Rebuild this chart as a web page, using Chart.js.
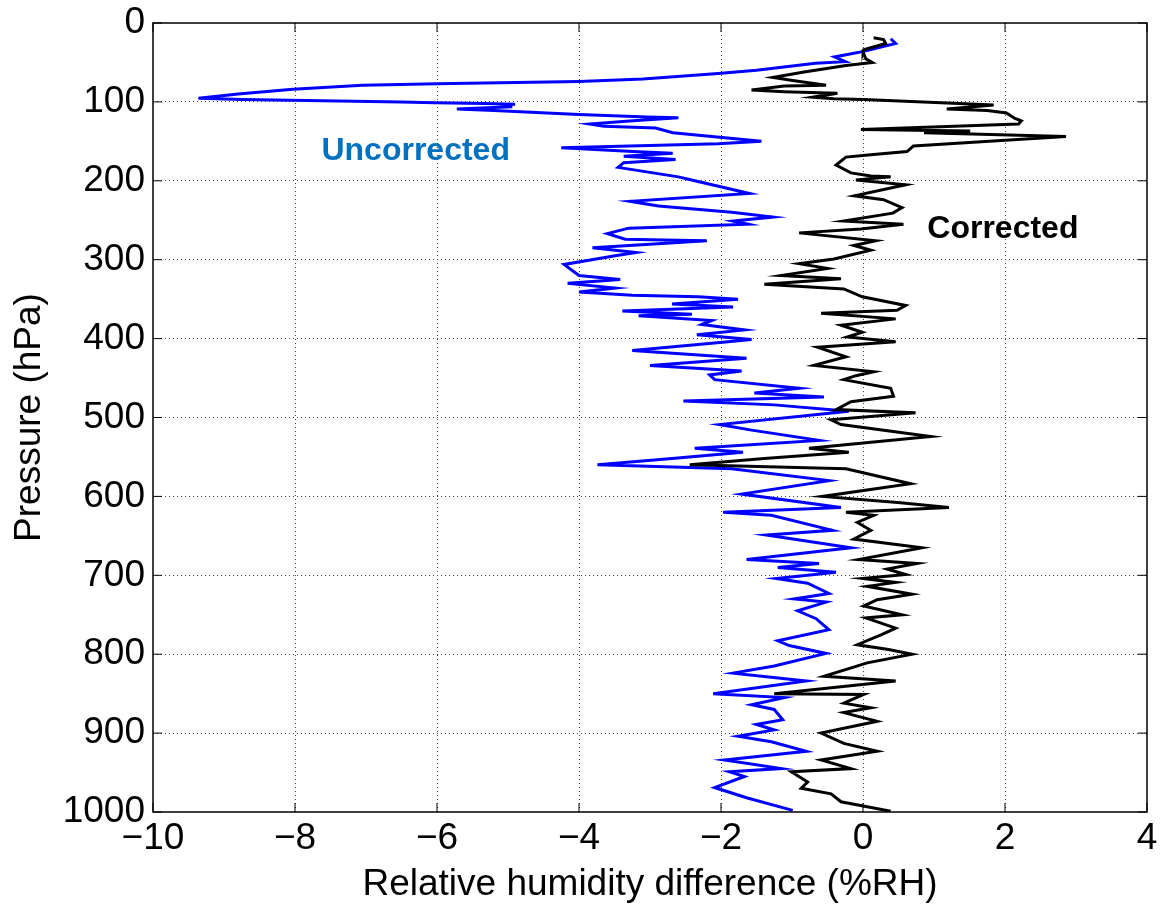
<!DOCTYPE html>
<html>
<head>
<meta charset="utf-8">
<script src="https://cdn.jsdelivr.net/npm/chart.js@4.4.0/dist/chart.umd.min.js"></script>
<style>
  html, body { margin: 0; padding: 0; background: #fff; }
  #wrap { width: 1168px; height: 910px; }
</style>
</head>
<body>
<div id="wrap"><canvas id="rhChart" width="1168" height="910"></canvas></div>
<script>
// Corrected profile (black)
const pCorrected = [18.7, 21, 26, 34, 37, 45.5, 50, 54, 62, 69, 73, 79, 80, 85, 87, 89, 94, 96, 97,
  103, 104, 109, 111, 114, 121, 124, 128, 135, 137, 139, 144, 148, 156, 163, 167, 170, 180, 190, 194, 195, 199,
  205, 219, 224, 234, 241, 251, 255, 261, 266, 276, 282, 288, 299, 305, 311, 320, 324, 331, 337, 347,
  358, 364, 368, 375, 383, 392, 398, 404, 411, 423, 434, 442, 447, 452, 463, 473, 480, 490, 494, 503,
  509, 524, 539, 544, 552, 560, 565, 584, 600, 608, 614, 620, 624, 633, 643, 654, 665, 680, 685, 692,
  699, 704, 709, 714, 724, 731, 739, 750, 754, 767, 775, 788, 794, 800, 811, 828, 834, 850, 851, 862,
  868, 874, 885, 900, 913, 923, 934, 945, 949, 962, 970, 977, 987, 999];
const rhCorrected = [0.15, 0.29, 0.32, 0.01, 0.0, 0.04, 0.13, -0.24, -0.83, -1.27, -0.99, -0.52, -1.11, -1.57, -1.11, -0.36, -0.71, -0.41, 0.01,
  1.6, 1.84, 1.18, 1.75, 2.02, 2.14, 2.23, 2.19, -0.03, 1.51, 0.86, 2.86, 2.12, 0.71, 0.62, 0.11, -0.24, -0.38, -0.17, 0.11, 0.39, -0.1,
  0.6, -0.12, 0.29, 0.55, 0.42, -0.27, 0.57, -0.03, -0.9, 0.18, -0.13, 0.11, -0.41, -0.9, -0.5, -1.15, -0.31, -1.39, -0.27, -0.01,
  0.6, 0.48, -0.59, 0.46, -0.31, -0.01, -0.22, 0.46, -0.64, -0.24, -0.69, 0.15, -0.1, -0.27, 0.39, 0.43, -0.17, -0.38, 0.74, -0.45,
  -0.31, 0.95, -0.76, -0.2, -1.39, -2.44, -0.24, 0.67, -0.57, 0.53, 1.21, -0.24, 0.15, -0.08, 0.11, -0.13, 0.83, -0.06, 0.76, 0.34,
  0.6, 0.0, 0.46, 0.06, 0.69, 0.2, 0.01, 0.55, 0.04, 0.46, 0.27, -0.08, 0.36, 0.69, 0.06, -0.55, 0.46, -1.25, 0.01, -0.27,
  0.11, -0.27, 0.2, -0.59, -0.27, 0.2, -0.59, -0.17, -1.01, -0.78, -0.87, -0.45, -0.31, 0.39];

// Uncorrected profile (blue)
const pUncorrected = [20, 26, 36, 43, 49, 51, 60, 64, 71, 74, 77, 79, 84, 90, 95.5, 97, 100, 101, 102, 103,
  104, 106, 109, 111, 116, 119, 120, 124, 128, 131, 133, 139, 150, 153, 158, 163, 165, 169, 173, 177, 183, 195, 198,
  216, 226, 232, 240, 246, 251, 255, 260, 267, 274, 276, 285, 291, 295, 306, 320, 325, 330, 336, 341, 345, 347,
  350, 356, 360, 365, 369, 371, 377, 382, 389, 395, 401, 404, 415, 425, 434, 441, 446, 452, 463, 469, 474, 479,
  484, 492, 509, 516, 529, 539, 544, 552, 560, 565, 580, 597, 614, 620, 624, 643, 649, 665, 680, 685, 690, 696,
  704, 710, 723, 730, 734, 745, 755, 769, 783, 789, 799, 815, 824, 834, 850, 855, 864, 870, 883, 889, 896, 904,
  911, 923, 934, 945, 949, 955, 969, 982, 998];
const rhUncorrected = [0.39, 0.46, 0.01, -0.4, -0.25, -0.67, -1.5, -2.04, -3.1, -4.0, -6.0, -7.05, -8.03, -8.8, -9.36, -8.73, -6.5, -6.03, -5.33, -4.9,
  -5.1, -4.94, -5.72, -5.2, -4.0, -3.04, -2.6, -3.24, -3.85, -3.65, -2.92, -2.68, -1.43, -2.04, -4.25, -3.24, -2.68, -3.37, -2.64, -3.37, -3.45, -2.6, -2.46,
  -1.6, -3.28, -2.88, -1.85, -1.27, -1.83, -1.62, -3.3, -3.6, -3.35, -2.2, -3.81, -3.2, -3.49, -4.21, -4.0, -3.42, -4.16, -3.49, -4.0, -3.25, -2.32,
  -1.76, -2.69, -1.83, -3.39, -2.41, -3.16, -2.13, -2.27, -1.67, -2.34, -1.57, -1.9, -3.25, -1.64, -3.0, -1.71, -2.16, -2.09, -0.9, -1.53, -0.55, -2.53,
  -1.25, -0.2, -2.02, -1.57, -0.62, -2.37, -1.69, -2.69, -3.74, -1.85, -0.48, -1.71, -0.31, -1.97, -1.29, -0.43, -1.36, -0.17, -1.64, -0.62, -1.2, -0.38,
  -1.22, -0.78, -0.48, -0.97, -0.52, -0.92, -0.66, -0.48, -1.2, -1.04, -0.52, -1.25, -1.83, -0.8, -2.11, -1.11, -1.57, -1.25, -1.13, -1.5, -1.25, -1.76,
  -1.29, -0.8, -1.95, -1.15, -1.88, -1.67, -2.09, -1.64, -0.99];

// Axis ticks
const xTicks = [-10, -8, -6, -4, -2, 0, 2, 4];
const yTicks = [0, 100, 200, 300, 400, 500, 600, 700, 800, 900, 1000];

// Text labels placed in data space
const seriesLabels = [
  { text: 'Uncorrected', x: -6.3, y: 162, color: '#0070C0' },
  { text: 'Corrected', x: 1.97, y: 261, color: '#000000' }
];

const FONT = '"Liberation Sans", Arial, Helvetica, sans-serif';

function toPoints(xs, ys) {
  return xs.map((v, i) => ({ x: v, y: ys[i] }));
}

// frame, inward tick marks and the in-plot labels
const framePlugin = {
  id: 'frame',
  afterDatasetsDraw(chart) {
    const { ctx, chartArea: a, scales } = chart;
    ctx.save();
    ctx.strokeStyle = '#000';
    ctx.lineWidth = 1.5;
    ctx.strokeRect(a.left, a.top, a.right - a.left, a.bottom - a.top);
    ctx.lineWidth = 1;
    const tl = 9;
    xTicks.forEach(t => {
      const px = scales.x.getPixelForValue(t);
      ctx.beginPath();
      ctx.moveTo(px, a.bottom); ctx.lineTo(px, a.bottom - tl);
      ctx.moveTo(px, a.top); ctx.lineTo(px, a.top + tl);
      ctx.stroke();
    });
    yTicks.forEach(t => {
      const py = scales.y.getPixelForValue(t);
      ctx.beginPath();
      ctx.moveTo(a.left, py); ctx.lineTo(a.left + tl, py);
      ctx.moveTo(a.right, py); ctx.lineTo(a.right - tl, py);
      ctx.stroke();
    });
    ctx.font = 'bold 32px ' + FONT;
    ctx.textAlign = 'center';
    ctx.textBaseline = 'middle';
    seriesLabels.forEach(l => {
      ctx.fillStyle = l.color;
      ctx.fillText(l.text, scales.x.getPixelForValue(l.x), scales.y.getPixelForValue(l.y));
    });
    ctx.restore();
  }
};

const gridColor = ctx => {
  const v = ctx.tick ? ctx.tick.value : null;
  const s = ctx.scale;
  return (v === s.min || v === s.max) ? 'rgba(0,0,0,0)' : '#444';
};

const ctx = document.getElementById('rhChart').getContext('2d');
const rhChart = new Chart(ctx, {
  type: 'scatter',
  data: {
    datasets: [
      {
        label: 'Corrected',
        data: toPoints(rhCorrected, pCorrected),
        borderColor: '#000000',
        borderWidth: 3,
        showLine: true,
        pointRadius: 0,
        tension: 0,
        order: 0
      },
      {
        label: 'Uncorrected',
        data: toPoints(rhUncorrected, pUncorrected),
        borderColor: '#0000FF',
        borderWidth: 3,
        showLine: true,
        pointRadius: 0,
        tension: 0,
        order: 1
      }
    ]
  },
  options: {
    responsive: false,
    animation: false,
    devicePixelRatio: 1,
    layout: { padding: { top: 23, right: 21, left: 0, bottom: 0 } },
    plugins: {
      legend: { display: false },
      tooltip: { enabled: false }
    },
    scales: {
      x: {
        type: 'linear',
        min: -10,
        max: 4,
        afterBuildTicks: s => { s.ticks = xTicks.map(v => ({ value: v })); },
        afterFit: s => { s.height = 98; s.paddingLeft = 0; s.paddingRight = 0; },
        grid: { color: gridColor, lineWidth: 1, drawTicks: false },
        border: { display: false, dash: [1, 3] },
        ticks: {
          color: '#000',
          padding: 5,
          font: { family: FONT, size: 37 },
          callback: v => String(v).replace('-', '\u2212')
        },
        title: {
          display: true,
          text: 'Relative humidity difference (%RH)',
          color: '#000',
          font: { family: FONT, size: 37 },
          padding: { top: 0, bottom: 3 }
        }
      },
      y: {
        type: 'linear',
        reverse: true,
        min: 0,
        max: 1000,
        afterBuildTicks: s => { s.ticks = yTicks.map(v => ({ value: v })); },
        afterFit: s => { s.width = 153; s.paddingTop = 0; s.paddingBottom = 0; },
        grid: { color: gridColor, lineWidth: 1, drawTicks: false },
        border: { display: false, dash: [1, 3] },
        ticks: {
          color: '#000',
          padding: 8,
          font: { family: FONT, size: 37 },
          callback: v => String(v)
        },
        title: {
          display: true,
          text: 'Pressure (hPa)',
          color: '#000',
          font: { family: FONT, size: 37 },
          padding: { top: 8, bottom: 0 }
        }
      }
    }
  },
  plugins: [framePlugin]
});
</script>
</body>
</html>
